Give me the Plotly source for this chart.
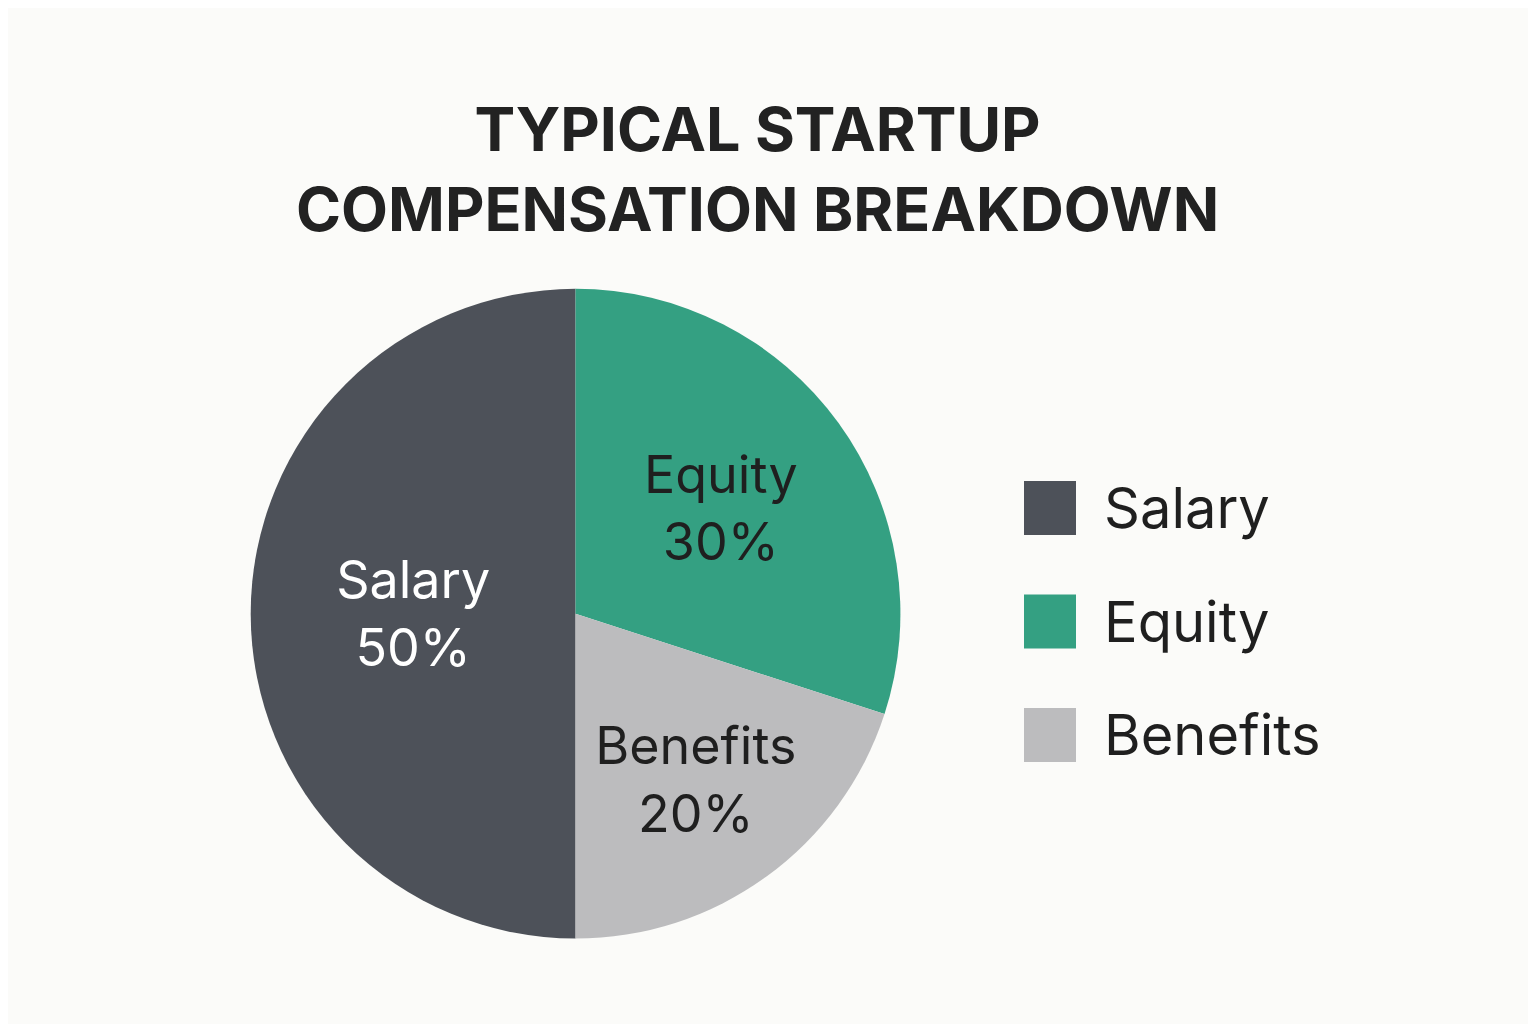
import plotly.graph_objects as go

categories = ["Salary", "Equity", "Benefits"]
values = [50, 30, 20]
colors = ["#4d5159", "#34a082", "#bcbcbe"]
text_colors = ["#ffffff", "#1f1f1f", "#1f1f1f"]

fig = go.Figure(go.Pie(
    labels=categories, values=values, sort=False,
    direction="clockwise", rotation=180,
    marker=dict(colors=colors, line=dict(width=0)),
    texttemplate="%{label}<br>%{value}%",
    textposition="inside", insidetextorientation="horizontal",
    textfont=dict(size=52, color=text_colors, family="Inter"),
    domain=dict(x=[0.158, 0.581], y=[0.087, 0.73]),
    hoverinfo="label+percent",
    showlegend=False,
))

# custom legend with large swatches
for i, (cat, col) in enumerate(zip(categories, colors)):
    yc = 1 - (500 + 113.5 * i) / 1024
    h = 54 / 1024
    fig.add_shape(type="rect", xref="paper", yref="paper",
                  x0=1016 / 1536, x1=1068 / 1536, y0=yc - h / 2, y1=yc + h / 2,
                  fillcolor=col, line=dict(width=0), layer="above")
    fig.add_annotation(xref="paper", yref="paper", x=1094 / 1536, y=yc,
                       xanchor="left", yanchor="middle", showarrow=False,
                       text=cat, font=dict(size=56, color="#1f1f1f", family="Inter"))

fig.update_layout(
    width=1536, height=1024,
    margin=dict(l=0, r=0, t=0, b=0),
    paper_bgcolor="#fbfbf9", plot_bgcolor="#fbfbf9",
    title=dict(text="<b>TYPICAL STARTUP<br>COMPENSATION BREAKDOWN</b>",
               x=0.488, xanchor="center", y=0.86, yanchor="middle",
               font=dict(size=61, color="#222222", family="Inter")),
)
fig.write_html("out.html")
